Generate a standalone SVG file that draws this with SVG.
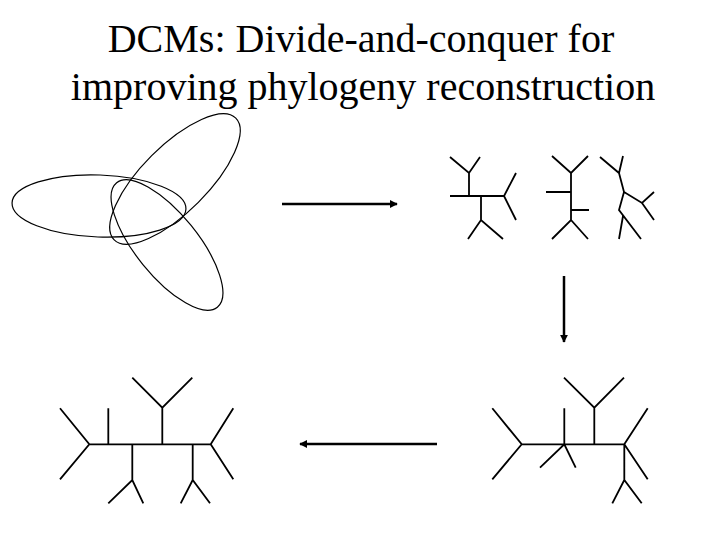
<svg xmlns="http://www.w3.org/2000/svg" width="720" height="540" viewBox="0 0 720 540">
<defs>
<style>
.title{font-family:"Liberation Serif","Times New Roman",serif;font-size:40px;fill:#000;text-anchor:middle}
.ell{fill:none;stroke:#000;stroke-width:1.2}
.tree{fill:none;stroke:#000;stroke-width:1.8;stroke-linecap:butt;stroke-linejoin:miter}
.arr{fill:none;stroke:#000;stroke-width:2.5}
</style>
<marker id="ah" viewBox="0 0 10 10" refX="9" refY="5" markerWidth="3.2" markerHeight="3.2" orient="auto" markerUnits="strokeWidth">
<path d="M0,0 L10,5 L0,10 z" fill="#000"/>
</marker>
</defs>
<rect width="720" height="540" fill="#fff"/>
<g id="title">
<text class="title" x="361" y="52">DCMs: Divide-and-conquer for</text>
<text class="title" x="363" y="100">improving phylogeny reconstruction</text>
</g>
<g id="subsets">
<ellipse class="ell" cx="99" cy="206" rx="87" ry="31" transform="rotate(2 99 206)"/>
<ellipse class="ell" cx="175" cy="179" rx="86" ry="33" transform="rotate(-45 175 179)"/>
<ellipse class="ell" cx="167" cy="245" rx="80" ry="31" transform="rotate(51 167 245)"/>
</g>
<g id="subtrees">
<path class="tree" d="M450,196 H504 M469,196 V173 M450,157 L469,173 L480,157 M481,196 V220 M468,239 L481,220 L503,239 M516,173 L504,196 L516,220"/>
<path class="tree" d="M571,173 V220 M552,156 L571,173 L588,156 M546,192 H571 M571,210 H589 M552,239 L571,220 L588,239"/>
<path class="tree" d="M600,157 L619,173 L623,156 M619,173 L624,192 L642,203 L654,192 M642,203 L654,220 M624,192 L619,210 L641,239 M623,216 L619,239"/>
</g>
<g id="mergedtree">
<path class="tree" d="M521.7,444.3 H624.3 M492.3,408.3 L521.7,444.3 L492.3,479.3 M564.3,444.3 V408.3 M540,467.7 L564.3,444.3 L575.7,467.7 M594.3,444.3 V407.7 M564,377.7 L594.3,407.7 L624,377.7 M647.7,408.3 L624.3,444.3 L647.7,479.3 M624.3,444.3 V480 M612.3,503.3 L624.3,480 L641.7,503.3"/>
</g>
<g id="finaltree">
<path class="tree" d="M89.3,444.3 H210.7 M60,408.3 L89.3,444.3 L60,479.3 M108.3,444.3 V408.3 M132.3,444.3 V480 M108.3,503.3 L132.3,480 L143.3,503.3 M162.3,444.3 V407.7 M132.3,377.7 L162.3,407.7 L192.3,377.7 M192.7,444.3 V480 M180.7,503.3 L192.7,480 L210,503.3 M233.3,408.3 L210.7,444.3 L233.3,479.3"/>
</g>
<g id="connectors">
<line class="arr" x1="282" y1="204" x2="397" y2="204" marker-end="url(#ah)"/>
<line class="arr" x1="564" y1="276" x2="564" y2="342" marker-end="url(#ah)"/>
<line class="arr" x1="437" y1="444" x2="300" y2="444" marker-end="url(#ah)"/>
</g>
</svg>
